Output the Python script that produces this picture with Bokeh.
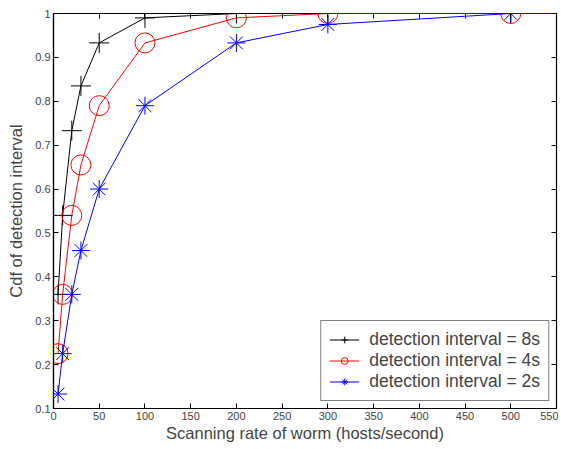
from bokeh.plotting import figure
from bokeh.models import FixedTicker, LinearAxis, CustomJSTickFormatter, Range1d, Legend, LegendItem
from bokeh.embed import file_html
from bokeh.resources import INLINE

# data
rate = [5, 10, 20, 30, 50, 100, 200, 300, 500, 600]
cdf_8s = [0.36, 0.54, 0.733, 0.835, 0.933, 0.99, 1.0, 1.0, 1.0, 1.0]
cdf_4s = [0.225, 0.36, 0.54, 0.655, 0.79, 0.933, 0.99, 1.0, 1.0, 1.0]
cdf_2s = [0.133, 0.225, 0.36, 0.46, 0.60, 0.79, 0.933, 0.975, 1.0, 1.0]
labels = ["detection interval = 8s", "detection interval = 4s", "detection interval = 2s"]
x_ticks = list(range(0, 551, 50))
y_ticks = [0.1, 0.2, 0.3, 0.4, 0.5, 0.6, 0.7, 0.8, 0.9, 1.0]

FONT = "Liberation Sans"

p = figure(width=558, height=446, output_backend="svg", toolbar_location=None,
           x_range=Range1d(0, 550), y_range=Range1d(0.1, 1.0),
           min_border_left=53, min_border_right=2, min_border_top=13, min_border_bottom=38)
p.grid.visible = False
p.outline_line_color = "black"
p.outline_line_width = 1.2

fmt = CustomJSTickFormatter(code="return tick.toFixed(1).replace(/\\.0$/, '');")

for ax in (p.xaxis[0], p.yaxis[0]):
    ax.major_tick_in = 5
    ax.major_tick_out = 0
    ax.minor_tick_line_color = None
    ax.major_label_text_font = FONT
    ax.major_label_text_font_size = "11px"
    ax.axis_label_text_font = FONT
    ax.axis_label_text_font_size = "16.5px"
    ax.axis_label_text_font_style = "normal"
    ax.axis_line_width = 1.2
    ax.major_label_standoff = 3

p.xaxis[0].ticker = FixedTicker(ticks=x_ticks)
p.yaxis[0].ticker = FixedTicker(ticks=y_ticks)
p.yaxis[0].formatter = fmt
p.xaxis[0].axis_label = "Scanning rate of worm (hosts/second)"
p.yaxis[0].axis_label = "Cdf of detection interval"
p.xaxis[0].axis_label_standoff = 1
p.yaxis[0].axis_label_standoff = 7

top = LinearAxis(ticker=FixedTicker(ticks=x_ticks), major_tick_in=5, major_tick_out=0,
                 minor_tick_line_color=None, major_label_text_color=None,
                 major_label_standoff=0, axis_line_color=None)
right = LinearAxis(ticker=FixedTicker(ticks=y_ticks), major_tick_in=5, major_tick_out=0,
                   minor_tick_line_color=None, major_label_text_color=None,
                   major_label_standoff=0, axis_line_color=None)
p.add_layout(top, "above")
p.add_layout(right, "right")

r1l = p.line(rate, cdf_8s, line_color="black", line_width=1)
r1m = p.scatter(rate, cdf_8s, marker="cross", size=20, line_color="black", line_width=1)
r2l = p.line(rate, cdf_4s, line_color="red", line_width=1)
r2m = p.scatter(rate, cdf_4s, marker="circle", size=20, line_color="red", fill_color=None, line_width=1)
r3l = p.line(rate, cdf_2s, line_color="blue", line_width=1)
r3m = p.scatter(rate, cdf_2s, marker="asterisk", size=18, line_color="blue", line_width=1)

legend = Legend(items=[LegendItem(label=labels[0], renderers=[r1l, r1m]),
                       LegendItem(label=labels[1], renderers=[r2l, r2m]),
                       LegendItem(label=labels[2], renderers=[r3l, r3m])],
                location="bottom_right", label_text_font=FONT, label_text_font_size="17.5px",
                border_line_color="black", border_line_width=1, background_fill_alpha=1,
                glyph_width=30, glyph_height=17, label_height=17, spacing=0, padding=8,
                margin=7, label_standoff=10)
p.add_layout(legend, "center")

open("out.html", "w").write(file_html(p, INLINE))
